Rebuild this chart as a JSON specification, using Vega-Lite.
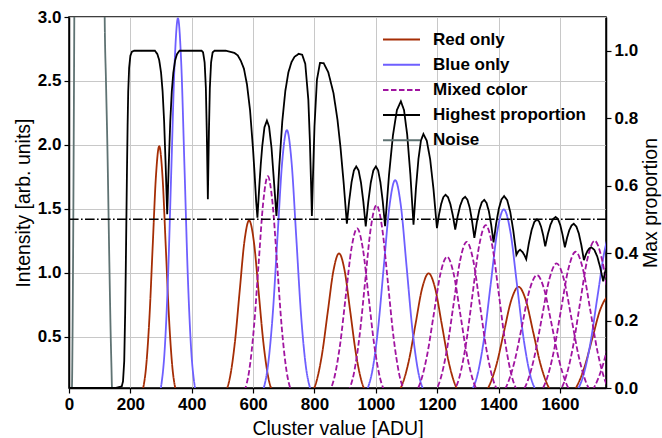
{
"$schema": "https://vega.github.io/schema/vega-lite/v6.json",
"width": 537, "height": 371,
"autosize": {"type": "none"},
"padding": {"left": 69, "top": 17, "right": 56, "bottom": 50},
"background": "white",
"config": {
 "font": "Liberation Sans",
 "view": {"stroke": "#000000", "strokeWidth": 1.5},
 "axis": {"labelFont": "Liberation Sans", "labelFontSize": 17, "labelFontWeight": "bold", "labelColor": "#000000", "titleFont": "Liberation Sans", "titleFontSize": 19.5, "titleFontWeight": "normal", "titleColor": "#000000", "tickColor": "#000000", "tickSize": 5, "tickWidth": 1.2, "domainColor": "#000000", "domainWidth": 1.5, "gridColor": "#c8c8c8", "gridWidth": 1, "labelPadding": 3, "labelFlush": false},
 "legend": {"orient": "none", "legendX": 313, "legendY": 14, "labelFont": "Liberation Sans", "labelFontSize": 17, "labelFontWeight": "bold", "labelColor": "#000000", "symbolType": "stroke", "symbolSize": 1369, "symbolStrokeWidth": 2, "labelOffset": 12, "rowPadding": 7.2, "clipHeight": 17, "padding": 0}
},
"datasets": {
 "peaks": [
  {"s":"Red only","id":"r1","x":240.75,"y":0.087},{"s":"Red only","id":"r1","x":251.4,"y":0.269},{"s":"Red only","id":"r1","x":262.05,"y":0.646},{"s":"Red only","id":"r1","x":272.7,"y":1.207},{"s":"Red only","id":"r1","x":283.35,"y":1.756},{"s":"Red only","id":"r1","x":294,"y":1.99},{"s":"Red only","id":"r1","x":304.65,"y":1.756},{"s":"Red only","id":"r1","x":315.3,"y":1.207},{"s":"Red only","id":"r1","x":325.95,"y":0.646},{"s":"Red only","id":"r1","x":336.6,"y":0.269},{"s":"Red only","id":"r1","x":347.25,"y":0.087},
  {"s":"Red only","id":"r2","x":509.75,"y":0.062},{"s":"Red only","id":"r2","x":525.2,"y":0.191},{"s":"Red only","id":"r2","x":540.65,"y":0.458},{"s":"Red only","id":"r2","x":556.1,"y":0.855},{"s":"Red only","id":"r2","x":571.55,"y":1.244},{"s":"Red only","id":"r2","x":587,"y":1.41},{"s":"Red only","id":"r2","x":602.45,"y":1.244},{"s":"Red only","id":"r2","x":617.9,"y":0.855},{"s":"Red only","id":"r2","x":633.35,"y":0.458},{"s":"Red only","id":"r2","x":648.8,"y":0.191},{"s":"Red only","id":"r2","x":664.25,"y":0.062},
  {"s":"Red only","id":"r3","x":788.75,"y":0.051},{"s":"Red only","id":"r3","x":807,"y":0.156},{"s":"Red only","id":"r3","x":825.25,"y":0.374},{"s":"Red only","id":"r3","x":843.5,"y":0.699},{"s":"Red only","id":"r3","x":861.75,"y":1.017},{"s":"Red only","id":"r3","x":880,"y":1.152},{"s":"Red only","id":"r3","x":898.25,"y":1.017},{"s":"Red only","id":"r3","x":916.5,"y":0.699},{"s":"Red only","id":"r3","x":934.75,"y":0.374},{"s":"Red only","id":"r3","x":953,"y":0.156},{"s":"Red only","id":"r3","x":971.25,"y":0.051},
  {"s":"Red only","id":"r4","x":1066,"y":0.044},{"s":"Red only","id":"r4","x":1087.2,"y":0.135},{"s":"Red only","id":"r4","x":1108.4,"y":0.323},{"s":"Red only","id":"r4","x":1129.6,"y":0.604},{"s":"Red only","id":"r4","x":1150.8,"y":0.879},{"s":"Red only","id":"r4","x":1172,"y":0.996},{"s":"Red only","id":"r4","x":1193.2,"y":0.879},{"s":"Red only","id":"r4","x":1214.4,"y":0.604},{"s":"Red only","id":"r4","x":1235.6,"y":0.323},{"s":"Red only","id":"r4","x":1256.8,"y":0.135},{"s":"Red only","id":"r4","x":1278,"y":0.044},
  {"s":"Red only","id":"r5","x":1346.25,"y":0.039},{"s":"Red only","id":"r5","x":1370,"y":0.121},{"s":"Red only","id":"r5","x":1393.75,"y":0.289},{"s":"Red only","id":"r5","x":1417.5,"y":0.54},{"s":"Red only","id":"r5","x":1441.25,"y":0.786},{"s":"Red only","id":"r5","x":1465,"y":0.891},{"s":"Red only","id":"r5","x":1488.75,"y":0.786},{"s":"Red only","id":"r5","x":1512.5,"y":0.54},{"s":"Red only","id":"r5","x":1536.25,"y":0.289},{"s":"Red only","id":"r5","x":1560,"y":0.121},{"s":"Red only","id":"r5","x":1583.75,"y":0.039},
  {"s":"Red only","id":"r6","x":1628,"y":0.036},{"s":"Red only","id":"r6","x":1654,"y":0.11},{"s":"Red only","id":"r6","x":1680,"y":0.264},{"s":"Red only","id":"r6","x":1706,"y":0.493},{"s":"Red only","id":"r6","x":1732,"y":0.717},{"s":"Red only","id":"r6","x":1758,"y":0.812},{"s":"Red only","id":"r6","x":1784,"y":0.717},
  {"s":"Blue only","id":"b1","x":290.5,"y":0.033},{"s":"Blue only","id":"b1","x":301.25,"y":0.131},{"s":"Blue only","id":"b1","x":312,"y":0.405},{"s":"Blue only","id":"b1","x":322.75,"y":0.971},{"s":"Blue only","id":"b1","x":333.5,"y":1.813},{"s":"Blue only","id":"b1","x":344.25,"y":2.639},{"s":"Blue only","id":"b1","x":355,"y":2.99},{"s":"Blue only","id":"b1","x":365.75,"y":2.639},{"s":"Blue only","id":"b1","x":376.5,"y":1.813},{"s":"Blue only","id":"b1","x":387.25,"y":0.971},{"s":"Blue only","id":"b1","x":398,"y":0.405},{"s":"Blue only","id":"b1","x":408.75,"y":0.131},{"s":"Blue only","id":"b1","x":419.5,"y":0.033},
  {"s":"Blue only","id":"b2","x":618.5,"y":0.024},{"s":"Blue only","id":"b2","x":633.75,"y":0.093},{"s":"Blue only","id":"b2","x":649,"y":0.286},{"s":"Blue only","id":"b2","x":664.25,"y":0.687},{"s":"Blue only","id":"b2","x":679.5,"y":1.283},{"s":"Blue only","id":"b2","x":694.75,"y":1.867},{"s":"Blue only","id":"b2","x":710,"y":2.116},{"s":"Blue only","id":"b2","x":725.25,"y":1.867},{"s":"Blue only","id":"b2","x":740.5,"y":1.283},{"s":"Blue only","id":"b2","x":755.75,"y":0.687},{"s":"Blue only","id":"b2","x":771,"y":0.286},{"s":"Blue only","id":"b2","x":786.25,"y":0.093},{"s":"Blue only","id":"b2","x":801.5,"y":0.024},
  {"s":"Blue only","id":"b3","x":969.75,"y":0.076},{"s":"Blue only","id":"b3","x":988.4,"y":0.233},{"s":"Blue only","id":"b3","x":1007.05,"y":0.56},{"s":"Blue only","id":"b3","x":1025.7,"y":1.046},{"s":"Blue only","id":"b3","x":1044.35,"y":1.522},{"s":"Blue only","id":"b3","x":1063,"y":1.725},{"s":"Blue only","id":"b3","x":1081.65,"y":1.522},{"s":"Blue only","id":"b3","x":1100.3,"y":1.046},{"s":"Blue only","id":"b3","x":1118.95,"y":0.56},{"s":"Blue only","id":"b3","x":1137.6,"y":0.233},{"s":"Blue only","id":"b3","x":1156.25,"y":0.076},
  {"s":"Blue only","id":"b4","x":1309.5,"y":0.066},{"s":"Blue only","id":"b4","x":1331,"y":0.202},{"s":"Blue only","id":"b4","x":1352.5,"y":0.486},{"s":"Blue only","id":"b4","x":1374,"y":0.907},{"s":"Blue only","id":"b4","x":1395.5,"y":1.32},{"s":"Blue only","id":"b4","x":1417,"y":1.496},{"s":"Blue only","id":"b4","x":1438.5,"y":1.32},{"s":"Blue only","id":"b4","x":1460,"y":0.907},{"s":"Blue only","id":"b4","x":1481.5,"y":0.486},{"s":"Blue only","id":"b4","x":1503,"y":0.202},{"s":"Blue only","id":"b4","x":1524.5,"y":0.066},
  {"s":"Blue only","id":"b5","x":1650,"y":0.059},{"s":"Blue only","id":"b5","x":1674,"y":0.181},{"s":"Blue only","id":"b5","x":1698,"y":0.434},{"s":"Blue only","id":"b5","x":1722,"y":0.811},{"s":"Blue only","id":"b5","x":1746,"y":1.18},{"s":"Blue only","id":"b5","x":1770,"y":1.337},{"s":"Blue only","id":"b5","x":1794,"y":1.18},
  {"s":"Mixed color","id":"m11","x":572.25,"y":0.077},{"s":"Mixed color","id":"m11","x":587.4,"y":0.238},{"s":"Mixed color","id":"m11","x":602.55,"y":0.57},{"s":"Mixed color","id":"m11","x":617.7,"y":1.065},{"s":"Mixed color","id":"m11","x":632.85,"y":1.55},{"s":"Mixed color","id":"m11","x":648,"y":1.756},{"s":"Mixed color","id":"m11","x":663.15,"y":1.55},{"s":"Mixed color","id":"m11","x":678.3,"y":1.065},{"s":"Mixed color","id":"m11","x":693.45,"y":0.57},{"s":"Mixed color","id":"m11","x":708.6,"y":0.238},{"s":"Mixed color","id":"m11","x":723.75,"y":0.077},
  {"s":"Mixed color","id":"m21","x":846.25,"y":0.059},{"s":"Mixed color","id":"m21","x":864.8,"y":0.182},{"s":"Mixed color","id":"m21","x":883.35,"y":0.438},{"s":"Mixed color","id":"m21","x":901.9,"y":0.818},{"s":"Mixed color","id":"m21","x":920.45,"y":1.19},{"s":"Mixed color","id":"m21","x":939,"y":1.348},{"s":"Mixed color","id":"m21","x":957.55,"y":1.19},{"s":"Mixed color","id":"m21","x":976.1,"y":0.818},{"s":"Mixed color","id":"m21","x":994.65,"y":0.438},{"s":"Mixed color","id":"m21","x":1013.2,"y":0.182},{"s":"Mixed color","id":"m21","x":1031.75,"y":0.059},
  {"s":"Mixed color","id":"m12","x":909.25,"y":0.067},{"s":"Mixed color","id":"m12","x":927.8,"y":0.207},{"s":"Mixed color","id":"m12","x":946.35,"y":0.497},{"s":"Mixed color","id":"m12","x":964.9,"y":0.928},{"s":"Mixed color","id":"m12","x":983.45,"y":1.35},{"s":"Mixed color","id":"m12","x":1002,"y":1.53},{"s":"Mixed color","id":"m12","x":1020.55,"y":1.35},{"s":"Mixed color","id":"m12","x":1039.1,"y":0.928},{"s":"Mixed color","id":"m12","x":1057.65,"y":0.497},{"s":"Mixed color","id":"m12","x":1076.2,"y":0.207},{"s":"Mixed color","id":"m12","x":1094.75,"y":0.067},
  {"s":"Mixed color","id":"m31","x":1125,"y":0.049},{"s":"Mixed color","id":"m31","x":1146.4,"y":0.152},{"s":"Mixed color","id":"m31","x":1167.8,"y":0.366},{"s":"Mixed color","id":"m31","x":1189.2,"y":0.683},{"s":"Mixed color","id":"m31","x":1210.6,"y":0.994},{"s":"Mixed color","id":"m31","x":1232,"y":1.126},{"s":"Mixed color","id":"m31","x":1253.4,"y":0.994},{"s":"Mixed color","id":"m31","x":1274.8,"y":0.683},{"s":"Mixed color","id":"m31","x":1296.2,"y":0.366},{"s":"Mixed color","id":"m31","x":1317.6,"y":0.152},{"s":"Mixed color","id":"m31","x":1339,"y":0.049},
  {"s":"Mixed color","id":"m22","x":1189,"y":0.055},{"s":"Mixed color","id":"m22","x":1210.4,"y":0.168},{"s":"Mixed color","id":"m22","x":1231.8,"y":0.404},{"s":"Mixed color","id":"m22","x":1253.2,"y":0.754},{"s":"Mixed color","id":"m22","x":1274.6,"y":1.097},{"s":"Mixed color","id":"m22","x":1296,"y":1.243},{"s":"Mixed color","id":"m22","x":1317.4,"y":1.097},{"s":"Mixed color","id":"m22","x":1338.8,"y":0.754},{"s":"Mixed color","id":"m22","x":1360.2,"y":0.404},{"s":"Mixed color","id":"m22","x":1381.6,"y":0.168},{"s":"Mixed color","id":"m22","x":1403,"y":0.055},
  {"s":"Mixed color","id":"m13","x":1251,"y":0.06},{"s":"Mixed color","id":"m13","x":1272.4,"y":0.186},{"s":"Mixed color","id":"m13","x":1293.8,"y":0.446},{"s":"Mixed color","id":"m13","x":1315.2,"y":0.833},{"s":"Mixed color","id":"m13","x":1336.6,"y":1.212},{"s":"Mixed color","id":"m13","x":1358,"y":1.373},{"s":"Mixed color","id":"m13","x":1379.4,"y":1.212},{"s":"Mixed color","id":"m13","x":1400.8,"y":0.833},{"s":"Mixed color","id":"m13","x":1422.2,"y":0.446},{"s":"Mixed color","id":"m13","x":1443.6,"y":0.186},{"s":"Mixed color","id":"m13","x":1465,"y":0.06},
  {"s":"Mixed color","id":"m41","x":1405.25,"y":0.043},{"s":"Mixed color","id":"m41","x":1429.2,"y":0.133},{"s":"Mixed color","id":"m41","x":1453.15,"y":0.319},{"s":"Mixed color","id":"m41","x":1477.1,"y":0.596},{"s":"Mixed color","id":"m41","x":1501.05,"y":0.868},{"s":"Mixed color","id":"m41","x":1525,"y":0.983},{"s":"Mixed color","id":"m41","x":1548.95,"y":0.868},{"s":"Mixed color","id":"m41","x":1572.9,"y":0.596},{"s":"Mixed color","id":"m41","x":1596.85,"y":0.319},{"s":"Mixed color","id":"m41","x":1620.8,"y":0.133},{"s":"Mixed color","id":"m41","x":1644.75,"y":0.043},
  {"s":"Mixed color","id":"m32","x":1469.25,"y":0.047},{"s":"Mixed color","id":"m32","x":1493.2,"y":0.145},{"s":"Mixed color","id":"m32","x":1517.15,"y":0.349},{"s":"Mixed color","id":"m32","x":1541.1,"y":0.651},{"s":"Mixed color","id":"m32","x":1565.05,"y":0.948},{"s":"Mixed color","id":"m32","x":1589,"y":1.074},{"s":"Mixed color","id":"m32","x":1612.95,"y":0.948},{"s":"Mixed color","id":"m32","x":1636.9,"y":0.651},{"s":"Mixed color","id":"m32","x":1660.85,"y":0.349},{"s":"Mixed color","id":"m32","x":1684.8,"y":0.145},{"s":"Mixed color","id":"m32","x":1708.75,"y":0.047},
  {"s":"Mixed color","id":"m23","x":1531.25,"y":0.051},{"s":"Mixed color","id":"m23","x":1555.2,"y":0.158},{"s":"Mixed color","id":"m23","x":1579.15,"y":0.378},{"s":"Mixed color","id":"m23","x":1603.1,"y":0.707},{"s":"Mixed color","id":"m23","x":1627.05,"y":1.028},{"s":"Mixed color","id":"m23","x":1651,"y":1.165},{"s":"Mixed color","id":"m23","x":1674.95,"y":1.028},{"s":"Mixed color","id":"m23","x":1698.9,"y":0.707},{"s":"Mixed color","id":"m23","x":1722.85,"y":0.378},{"s":"Mixed color","id":"m23","x":1746.8,"y":0.158},{"s":"Mixed color","id":"m23","x":1770.75,"y":0.051},
  {"s":"Mixed color","id":"m14","x":1593.25,"y":0.055},{"s":"Mixed color","id":"m14","x":1617.2,"y":0.169},{"s":"Mixed color","id":"m14","x":1641.15,"y":0.406},{"s":"Mixed color","id":"m14","x":1665.1,"y":0.759},{"s":"Mixed color","id":"m14","x":1689.05,"y":1.104},{"s":"Mixed color","id":"m14","x":1713,"y":1.251},{"s":"Mixed color","id":"m14","x":1736.95,"y":1.104},{"s":"Mixed color","id":"m14","x":1760.9,"y":0.759},
  {"s":"Mixed color","id":"m51","x":1688,"y":0.038},{"s":"Mixed color","id":"m51","x":1714.2,"y":0.118},{"s":"Mixed color","id":"m51","x":1740.4,"y":0.284},{"s":"Mixed color","id":"m51","x":1766.6,"y":0.53},{"s":"Mixed color","id":"m51","x":1792.8,"y":0.77}
 ],
 "noise": [
  {"s":"Noise","x":5,"y":0.02},{"s":"Noise","x":9.5,"y":0.1},{"s":"Noise","x":11.5,"y":0.5},{"s":"Noise","x":13.5,"y":1.2},{"s":"Noise","x":15.5,"y":2.1},{"s":"Noise","x":17.3,"y":3.0},{"s":"Noise","x":20,"y":4.5},{"s":"Noise","x":30,"y":12},{"s":"Noise","x":65,"y":40},{"s":"Noise","x":100,"y":12},{"s":"Noise","x":110,"y":5.5},{"s":"Noise","x":116.3,"y":3.0},{"s":"Noise","x":120.5,"y":2.5},{"s":"Noise","x":125,"y":2.0},{"s":"Noise","x":131.5,"y":1.08},{"s":"Noise","x":136,"y":0.5},{"s":"Noise","x":138.5,"y":0.25},{"s":"Noise","x":140,"y":0.1},{"s":"Noise","x":143,"y":0.02}
 ],
 "prop": [
  {"s":"Highest proportion","x":0,"p":0},{"s":"Highest proportion","x":150,"p":0},{"s":"Highest proportion","x":172,"p":0.005},{"s":"Highest proportion","x":176,"p":0.02},{"s":"Highest proportion","x":180,"p":0.08},{"s":"Highest proportion","x":183,"p":0.22},{"s":"Highest proportion","x":185,"p":0.35},{"s":"Highest proportion","x":187,"p":0.5},{"s":"Highest proportion","x":189,"p":0.65},{"s":"Highest proportion","x":191,"p":0.78},{"s":"Highest proportion","x":193,"p":0.88},{"s":"Highest proportion","x":196,"p":0.95},{"s":"Highest proportion","x":200,"p":0.985},{"s":"Highest proportion","x":205,"p":0.997},{"s":"Highest proportion","x":212,"p":1.0},
  {"s":"Highest proportion","x":280,"p":1.0},{"s":"Highest proportion","x":288,"p":0.99},{"s":"Highest proportion","x":294,"p":0.972},{"s":"Highest proportion","x":300,"p":0.935},{"s":"Highest proportion","x":305,"p":0.88},{"s":"Highest proportion","x":310,"p":0.79},{"s":"Highest proportion","x":315,"p":0.66},{"s":"Highest proportion","x":320,"p":0.515},{"s":"Highest proportion","x":325,"p":0.66},{"s":"Highest proportion","x":330,"p":0.79},{"s":"Highest proportion","x":335,"p":0.88},{"s":"Highest proportion","x":340,"p":0.935},{"s":"Highest proportion","x":346,"p":0.972},{"s":"Highest proportion","x":352,"p":0.99},{"s":"Highest proportion","x":360,"p":1.0},
  {"s":"Highest proportion","x":432,"p":1.0},{"s":"Highest proportion","x":437,"p":0.995},{"s":"Highest proportion","x":442,"p":0.965},{"s":"Highest proportion","x":446,"p":0.89},{"s":"Highest proportion","x":449,"p":0.76},{"s":"Highest proportion","x":452.5,"p":0.56},{"s":"Highest proportion","x":456,"p":0.76},{"s":"Highest proportion","x":459,"p":0.89},{"s":"Highest proportion","x":463,"p":0.965},{"s":"Highest proportion","x":468,"p":0.995},{"s":"Highest proportion","x":474,"p":1.0},
  {"s":"Highest proportion","x":510,"p":1.0},{"s":"Highest proportion","x":530,"p":0.996},{"s":"Highest proportion","x":540,"p":0.993},{"s":"Highest proportion","x":550,"p":0.986},{"s":"Highest proportion","x":560,"p":0.97},{"s":"Highest proportion","x":570,"p":0.947},{"s":"Highest proportion","x":580,"p":0.9},{"s":"Highest proportion","x":590,"p":0.824},{"s":"Highest proportion","x":600,"p":0.705},{"s":"Highest proportion","x":605,"p":0.632},{"s":"Highest proportion","x":610,"p":0.552},{"s":"Highest proportion","x":614,"p":0.505},
  {"s":"Highest proportion","x":620,"p":0.596},{"s":"Highest proportion","x":625,"p":0.664},{"s":"Highest proportion","x":630,"p":0.719},{"s":"Highest proportion","x":637,"p":0.773},{"s":"Highest proportion","x":645,"p":0.793},{"s":"Highest proportion","x":652,"p":0.775},{"s":"Highest proportion","x":660,"p":0.712},{"s":"Highest proportion","x":668,"p":0.612},{"s":"Highest proportion","x":676,"p":0.51},
  {"s":"Highest proportion","x":680,"p":0.564},{"s":"Highest proportion","x":685,"p":0.653},{"s":"Highest proportion","x":695,"p":0.79},{"s":"Highest proportion","x":705,"p":0.881},{"s":"Highest proportion","x":715,"p":0.936},{"s":"Highest proportion","x":725,"p":0.966},{"s":"Highest proportion","x":735,"p":0.982},{"s":"Highest proportion","x":749,"p":0.991},{"s":"Highest proportion","x":760,"p":0.988},{"s":"Highest proportion","x":770,"p":0.961},{"s":"Highest proportion","x":780,"p":0.854},{"s":"Highest proportion","x":785,"p":0.733},{"s":"Highest proportion","x":789,"p":0.6},{"s":"Highest proportion","x":791.5,"p":0.51},{"s":"Highest proportion","x":795,"p":0.625},{"s":"Highest proportion","x":800,"p":0.776},{"s":"Highest proportion","x":808,"p":0.914},{"s":"Highest proportion","x":818,"p":0.964},{"s":"Highest proportion","x":830,"p":0.963},{"s":"Highest proportion","x":845,"p":0.936},{"s":"Highest proportion","x":862,"p":0.874},{"s":"Highest proportion","x":875,"p":0.795},{"s":"Highest proportion","x":885,"p":0.711},{"s":"Highest proportion","x":895,"p":0.609},{"s":"Highest proportion","x":905.5,"p":0.487},
  {"s":"Highest proportion","x":913.1,"p":0.555},{"s":"Highest proportion","x":920.8,"p":0.61},{"s":"Highest proportion","x":928.4,"p":0.645},{"s":"Highest proportion","x":936,"p":0.657},{"s":"Highest proportion","x":943.8,"p":0.645},{"s":"Highest proportion","x":951.5,"p":0.609},{"s":"Highest proportion","x":959.3,"p":0.552},{"s":"Highest proportion","x":967,"p":0.479},
  {"s":"Highest proportion","x":975.3,"p":0.552},{"s":"Highest proportion","x":983.5,"p":0.609},{"s":"Highest proportion","x":991.8,"p":0.645},{"s":"Highest proportion","x":1000,"p":0.657},{"s":"Highest proportion","x":1007.5,"p":0.645},{"s":"Highest proportion","x":1015,"p":0.609},{"s":"Highest proportion","x":1022.5,"p":0.553},{"s":"Highest proportion","x":1030,"p":0.48},
  {"s":"Highest proportion","x":1042.9,"p":0.632},{"s":"Highest proportion","x":1055.8,"p":0.75},{"s":"Highest proportion","x":1068.6,"p":0.824},{"s":"Highest proportion","x":1081.5,"p":0.85},{"s":"Highest proportion","x":1091.8,"p":0.824},{"s":"Highest proportion","x":1102.1,"p":0.751},{"s":"Highest proportion","x":1112.4,"p":0.634},{"s":"Highest proportion","x":1122.7,"p":0.484},
  {"s":"Highest proportion","x":1130.8,"p":0.594},{"s":"Highest proportion","x":1138.9,"p":0.68},{"s":"Highest proportion","x":1147,"p":0.734},{"s":"Highest proportion","x":1155,"p":0.753},{"s":"Highest proportion","x":1166,"p":0.733},{"s":"Highest proportion","x":1177,"p":0.678},{"s":"Highest proportion","x":1188,"p":0.588},{"s":"Highest proportion","x":1199,"p":0.474},
  {"s":"Highest proportion","x":1206,"p":0.515},{"s":"Highest proportion","x":1213,"p":0.546},{"s":"Highest proportion","x":1220,"p":0.566},{"s":"Highest proportion","x":1227,"p":0.573},{"s":"Highest proportion","x":1234.9,"p":0.566},{"s":"Highest proportion","x":1242.9,"p":0.545},{"s":"Highest proportion","x":1250.8,"p":0.512},{"s":"Highest proportion","x":1258.7,"p":0.47},
  {"s":"Highest proportion","x":1266.8,"p":0.51},{"s":"Highest proportion","x":1274.9,"p":0.541},{"s":"Highest proportion","x":1282.9,"p":0.56},{"s":"Highest proportion","x":1291,"p":0.567},{"s":"Highest proportion","x":1298.5,"p":0.558},{"s":"Highest proportion","x":1306,"p":0.534},{"s":"Highest proportion","x":1313.5,"p":0.495},{"s":"Highest proportion","x":1321,"p":0.445},
  {"s":"Highest proportion","x":1329,"p":0.491},{"s":"Highest proportion","x":1337,"p":0.527},{"s":"Highest proportion","x":1345,"p":0.55},{"s":"Highest proportion","x":1353,"p":0.558},{"s":"Highest proportion","x":1360.6,"p":0.549},{"s":"Highest proportion","x":1368.3,"p":0.524},{"s":"Highest proportion","x":1375.9,"p":0.484},{"s":"Highest proportion","x":1383.5,"p":0.432},
  {"s":"Highest proportion","x":1392.1,"p":0.488},{"s":"Highest proportion","x":1400.8,"p":0.532},{"s":"Highest proportion","x":1409.4,"p":0.559},{"s":"Highest proportion","x":1418,"p":0.569},{"s":"Highest proportion","x":1428,"p":0.557},{"s":"Highest proportion","x":1438,"p":0.522},{"s":"Highest proportion","x":1448,"p":0.466},{"s":"Highest proportion","x":1458,"p":0.395},
  {"s":"Highest proportion","x":1464,"p":0.405},{"s":"Highest proportion","x":1470,"p":0.41},{"s":"Highest proportion","x":1478,"p":0.403},{"s":"Highest proportion","x":1484,"p":0.394},{"s":"Highest proportion","x":1490,"p":0.382},
  {"s":"Highest proportion","x":1498.8,"p":0.43},{"s":"Highest proportion","x":1507.5,"p":0.468},{"s":"Highest proportion","x":1516.3,"p":0.492},{"s":"Highest proportion","x":1525,"p":0.5},{"s":"Highest proportion","x":1531.8,"p":0.494},{"s":"Highest proportion","x":1538.5,"p":0.478},{"s":"Highest proportion","x":1545.3,"p":0.453},{"s":"Highest proportion","x":1552,"p":0.42},
  {"s":"Highest proportion","x":1560.5,"p":0.456},{"s":"Highest proportion","x":1569,"p":0.484},{"s":"Highest proportion","x":1577.5,"p":0.501},{"s":"Highest proportion","x":1586,"p":0.507},{"s":"Highest proportion","x":1593.5,"p":0.501},{"s":"Highest proportion","x":1601,"p":0.483},{"s":"Highest proportion","x":1608.5,"p":0.454},{"s":"Highest proportion","x":1616,"p":0.417},
  {"s":"Highest proportion","x":1623.3,"p":0.446},{"s":"Highest proportion","x":1630.5,"p":0.468},{"s":"Highest proportion","x":1637.8,"p":0.482},{"s":"Highest proportion","x":1645,"p":0.487},{"s":"Highest proportion","x":1653.3,"p":0.479},{"s":"Highest proportion","x":1661.5,"p":0.458},{"s":"Highest proportion","x":1669.8,"p":0.423},{"s":"Highest proportion","x":1678,"p":0.379},
  {"s":"Highest proportion","x":1684,"p":0.395},{"s":"Highest proportion","x":1690,"p":0.407},{"s":"Highest proportion","x":1696,"p":0.414},{"s":"Highest proportion","x":1702,"p":0.417},{"s":"Highest proportion","x":1711.8,"p":0.41},{"s":"Highest proportion","x":1721.5,"p":0.39},{"s":"Highest proportion","x":1731.3,"p":0.357},{"s":"Highest proportion","x":1741,"p":0.316},
  {"s":"Highest proportion","x":1745,"p":0.335},{"s":"Highest proportion","x":1750,"p":0.355}
 ],
 "threshold": [{"x":0,"p":0.5},{"x":1750,"p":0.5}]
},
"layer": [
 {"layer": [
  {"data": {"name": "peaks"},
   "mark": {"type": "line", "clip": true, "interpolate": "monotone", "strokeWidth": 1.8},
   "encoding": {
    "x": {"field": "x", "type": "quantitative", "scale": {"domain": [0, 1750], "nice": false, "zero": false}, "axis": {"values": [0,200,400,600,800,1000,1200,1400,1600], "format": "d", "grid": true, "title": "Cluster value [ADU]", "titleX": 268.5, "titleY": 40, "titleBaseline": "middle", "titleAlign": "center"}},
    "y": {"field": "y", "type": "quantitative", "scale": {"domain": [0.1, 3.0], "nice": false, "zero": false}, "axis": {"orient": "left", "values": [0.5,1.0,1.5,2.0,2.5,3.0], "format": ".1f", "grid": true, "title": "Intensity [arb. units]", "titleX": -46, "titleY": 185.5, "titleAngle": 270, "titleBaseline": "middle", "titleAlign": "center"}},
    "color": {"field": "s", "type": "nominal", "scale": {"domain": ["Red only","Blue only","Mixed color","Highest proportion","Noise"], "range": ["#a52d05","#6e5fff","#a014a0","#000000","#5f7373"]}, "legend": {"title": null}},
    "strokeDash": {"field": "s", "type": "nominal", "scale": {"domain": ["Red only","Blue only","Mixed color","Highest proportion","Noise"], "range": [[1,0],[1,0],[5.5,2.5],[1,0],[1,0]]}, "legend": {"title": null}},
    "detail": {"field": "id", "type": "nominal"}
   }},
  {"data": {"name": "noise"},
   "mark": {"type": "line", "clip": true, "interpolate": "monotone", "strokeWidth": 1.8},
   "encoding": {
    "x": {"field": "x", "type": "quantitative"},
    "y": {"field": "y", "type": "quantitative"},
    "color": {"field": "s", "type": "nominal"},
    "strokeDash": {"field": "s", "type": "nominal"}
   }}
 ]},
 {"layer": [
  {"data": {"name": "prop"},
   "mark": {"type": "line", "clip": true, "strokeWidth": 1.8},
   "encoding": {
    "x": {"field": "x", "type": "quantitative"},
    "y": {"field": "p", "type": "quantitative", "scale": {"domain": [0, 1.1], "nice": false, "zero": false}, "axis": {"orient": "right", "values": [0,0.2,0.4,0.6,0.8,1.0], "format": ".1f", "grid": false, "title": "Max proportion", "titleX": 44, "titleY": 185.5, "titleAngle": 270, "titleBaseline": "middle", "titleAlign": "center"}},
    "color": {"field": "s", "type": "nominal"},
    "strokeDash": {"field": "s", "type": "nominal"}
   }},
  {"data": {"name": "threshold"},
   "mark": {"type": "line", "clip": true, "strokeWidth": 1.5, "color": "#000000", "strokeDash": [9.6, 2.4, 1.6, 2.4]},
   "encoding": {
    "x": {"field": "x", "type": "quantitative"},
    "y": {"field": "p", "type": "quantitative"}
   }}
 ]}
],
"resolve": {"scale": {"y": "independent"}}
}
